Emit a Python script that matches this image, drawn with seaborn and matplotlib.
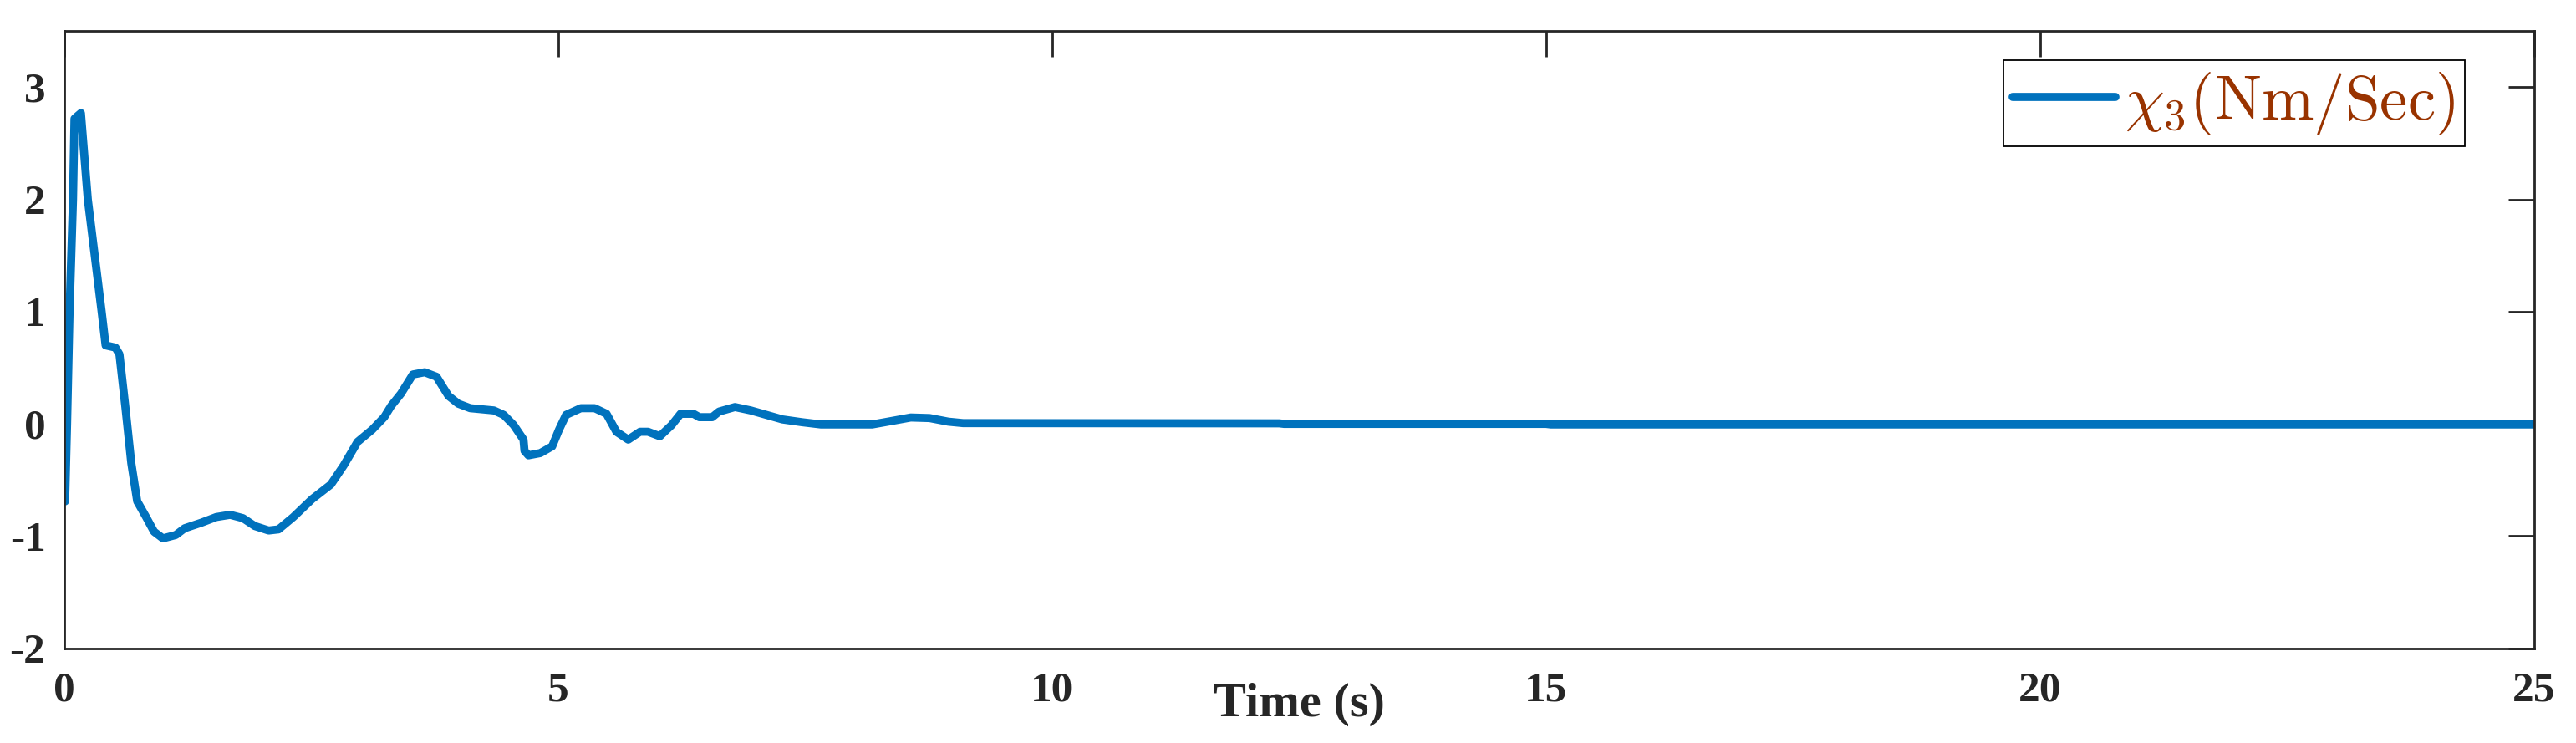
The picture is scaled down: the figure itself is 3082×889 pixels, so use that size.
import numpy as np
import pandas as pd
import matplotlib
matplotlib.use("Agg")
import matplotlib.pyplot as plt
import seaborn as sns

# time (s) and chi_3 values
time_s = [0.01, 0.03, 0.055, 0.09, 0.105, 0.13, 0.17, 0.24, 0.31, 0.38, 0.42,
          0.47, 0.52, 0.56, 0.62, 0.68, 0.74, 0.83, 0.91, 1.0, 1.13, 1.22,
          1.39, 1.54, 1.68, 1.81, 1.93, 2.07, 2.17, 2.32, 2.51, 2.7, 2.83,
          2.97, 3.12, 3.24, 3.31, 3.41, 3.53, 3.65, 3.77, 3.89, 3.99, 4.11,
          4.35, 4.45, 4.55, 4.65, 4.66, 4.7, 4.82, 4.94, 5.01, 5.08, 5.23,
          5.37, 5.49, 5.59, 5.71, 5.83, 5.91, 6.03, 6.15, 6.24, 6.37, 6.43,
          6.56, 6.63, 6.79, 6.95, 7.11, 7.27, 7.47, 7.66, 8.18, 8.37, 8.57,
          8.76, 8.95, 9.1, 12.3, 12.35, 15.0, 15.05, 25.0]
chi3 = [-0.69, 0.0, 1.0, 2.0, 2.72, 2.74, 2.77, 2.0, 1.5, 1.0, 0.70,
        0.69, 0.68, 0.62, 0.15, -0.35, -0.69, -0.83, -0.96, -1.02, -0.99, -0.93,
        -0.88, -0.83, -0.81, -0.84, -0.91, -0.95, -0.94, -0.83, -0.67, -0.54, -0.37,
        -0.16, -0.05, 0.06, 0.16, 0.27, 0.44, 0.46, 0.42, 0.25, 0.18, 0.14,
        0.12, 0.08, -0.01, -0.14, -0.24, -0.28, -0.26, -0.2, -0.05, 0.08, 0.14,
        0.14, 0.09, -0.07, -0.14, -0.07, -0.07, -0.11, -0.01, 0.09, 0.09, 0.06,
        0.06, 0.11, 0.15, 0.12, 0.08, 0.04, 0.015, -0.005, -0.005, 0.025, 0.057,
        0.052, 0.02, 0.007, 0.005, 0.0, 0.0, -0.005, -0.005]

x_ticks = [0, 5, 10, 15, 20, 25]
y_ticks = [-2, -1, 0, 1, 2, 3]
series_label = r"$\chi_3(\mathrm{Nm/Sec})$"

df = pd.DataFrame({"t": time_s, "chi3": chi3})

sns.set_theme(style="white")
plt.rcParams["font.family"] = ["Liberation Serif", "DejaVu Serif"]
plt.rcParams["mathtext.fontset"] = "cm"

axis_col = "#262626"
fig = plt.figure(figsize=(30.82, 8.89), dpi=100)
ax = fig.add_axes([0.02489, 0.12744, 0.98368 - 0.02489, 0.95804 - 0.12744])

sns.lineplot(data=df, x="t", y="chi3", ax=ax, color="#0072BD", linewidth=7,
             label=series_label, sort=False)

ax.set_xlim(0, 25)
ax.set_ylim(-2, 3.5)
ax.set_xticks(x_ticks)
ax.set_yticks(y_ticks)
ax.set_xticklabels([str(v) for v in x_ticks], fontsize=37, fontweight="bold")
ax.set_yticklabels([str(v) for v in y_ticks], fontsize=37, fontweight="bold")

for s in ax.spines.values():
    s.set_visible(True)
    s.set_color(axis_col)
    s.set_linewidth(2.0)

ax.tick_params(axis="both", direction="in", length=22, width=2.0, color=axis_col,
               labelcolor=axis_col, top=True, right=True)
ax.tick_params(axis="x", pad=20)
ax.tick_params(axis="y", pad=16)

ax.set_ylabel("")
ax.set_xlabel("Time (s)", fontsize=42, fontweight="bold", color=axis_col)
ax.xaxis.set_label_coords(0.5, -0.055)

leg = ax.legend(loc="upper right", bbox_to_anchor=(0.972, 0.9526),
                fontsize=54, handlelength=1.64, handletextpad=0.15,
                borderpad=0.15, borderaxespad=0, fancybox=False,
                framealpha=1, edgecolor="black")
leg.get_frame().set_linewidth(1.3)
for txt in leg.get_texts():
    txt.set_color("#993300")
for ln in leg.get_lines():
    ln.set_linewidth(7)

fig.savefig("out.png", dpi=100)
